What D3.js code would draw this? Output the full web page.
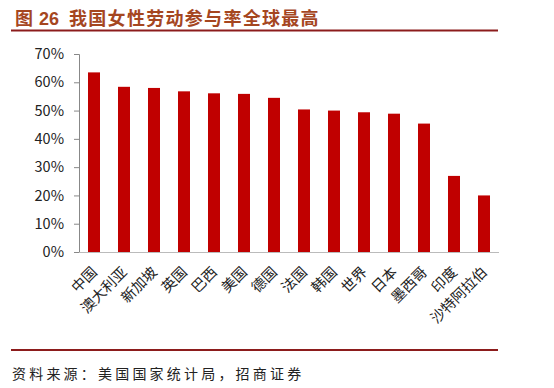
<!DOCTYPE html>
<html>
<head>
<meta charset="utf-8">
<script src="https://cdn.jsdelivr.net/npm/d3@7"></script>
<style>
  body { margin: 0; background: #fff; }
  svg text { font-family: "Noto Sans CJK SC", sans-serif; }
</style>
</head>
<body>
<div id="chart"></div>
<script>
// countries and female labour participation rate (%)
var countries = ["中国", "澳大利亚", "新加坡", "英国", "巴西", "美国", "德国", "法国", "韩国", "世界", "日本", "墨西哥", "印度", "沙特阿拉伯"];
var rates = [63.5, 58.4, 58.0, 56.8, 56.1, 55.9, 54.5, 50.4, 50.0, 49.4, 48.9, 45.4, 26.9, 20.0];
var yTicks = [0, 10, 20, 30, 40, 50, 60, 70];

var w = 554, h = 388;
var plotLeft = 79, plotRight = 499, plotTop = 54, plotBottom = 252;

var svg = d3.select("#chart").append("svg")
    .attr("width", w)
    .attr("height", h);

// title: "图 26" then the heading, spaced like the original
var title = svg.append("text")
    .attr("y", 25)
    .attr("font-size", 18)
    .attr("font-weight", "bold")
    .attr("fill", "#a5461f");
title.append("tspan").attr("x", 15).text("图");
title.append("tspan").attr("x", 39)
    .attr("font-family", "'Liberation Sans', Arial, sans-serif")
    .text("26");
title.append("tspan").attr("x", 69)
    .style("letter-spacing", "1.3px")
    .text("我国女性劳动参与率全球最高");

svg.append("line")
    .attr("x1", 11).attr("x2", 498)
    .attr("y1", 30.5).attr("y2", 30.5)
    .attr("stroke", "#8c1c1c").attr("stroke-width", 2);

svg.append("line")
    .attr("x1", 11).attr("x2", 498)
    .attr("y1", 350).attr("y2", 350)
    .attr("stroke", "#8c1c1c").attr("stroke-width", 2);

svg.append("text")
    .attr("x", 12).attr("y", 379)
    .attr("font-size", 14)
    .attr("fill", "#222")
    .style("letter-spacing", "3.2px")
    .text("资料来源：美国国家统计局，招商证券");

var x = d3.scaleBand()
    .domain(countries)
    .range([plotLeft, plotRight])
    .paddingInner(0.6)
    .paddingOuter(0.3);

var y = d3.scaleLinear()
    .domain([0, 70])
    .range([plotBottom, plotTop]);

// y axis
var yAxis = svg.append("g")
    .attr("transform", "translate(" + plotLeft + ",0)")
    .call(d3.axisLeft(y).tickValues(yTicks).tickSize(5).tickPadding(10)
        .tickFormat(function(d) { return d + "%"; }));
yAxis.select(".domain").attr("stroke", "#888");
yAxis.selectAll(".tick line").attr("stroke", "#888");
yAxis.selectAll("text")
    .attr("font-family", "Carlito, 'Liberation Sans', sans-serif")
    .attr("font-size", 14.5)
    .attr("fill", "#222");

// bars
svg.selectAll("rect.bar")
    .data(rates)
    .enter()
    .append("rect")
    .attr("class", "bar")
    .attr("x", function(d, i) { return x(countries[i]); })
    .attr("y", function(d) { return y(d); })
    .attr("width", x.bandwidth())
    .attr("height", function(d) { return plotBottom - y(d); })
    .attr("fill", "#c00000");

// x axis line
svg.append("line")
    .attr("x1", plotLeft).attr("x2", plotRight)
    .attr("y1", plotBottom + 0.5).attr("y2", plotBottom + 0.5)
    .attr("stroke", "#bbb");

// x labels, rotated
svg.selectAll("text.xlab")
    .data(countries)
    .enter()
    .append("text")
    .attr("class", "xlab")
    .attr("text-anchor", "end")
    .attr("font-size", 14.5)
    .attr("fill", "#222")
    .attr("transform", function(d) {
        var cx = x(d) + x.bandwidth() / 2 + 4;
        return "translate(" + cx + "," + (plotBottom + 21) + ") rotate(-45)";
    })
    .text(function(d) { return d; });
</script>
</body>
</html>
